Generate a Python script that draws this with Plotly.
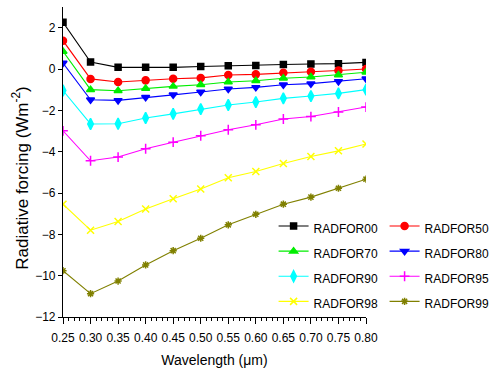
import plotly.graph_objects as go

# Wavelength grid (micrometres)
wavelength = [0.25, 0.30, 0.35, 0.40, 0.45, 0.50, 0.55, 0.60, 0.65, 0.70, 0.75, 0.80]

# Radiative forcing (W m^-2) for each scenario
radfor00 = [2.26, 0.34, 0.08, 0.08, 0.08, 0.12, 0.16, 0.17, 0.22, 0.24, 0.26, 0.32]
radfor50 = [1.37, -0.48, -0.63, -0.55, -0.47, -0.43, -0.29, -0.26, -0.18, -0.13, -0.07, 0.00]
radfor70 = [0.85, -1.00, -1.05, -0.94, -0.84, -0.76, -0.63, -0.57, -0.45, -0.39, -0.29, -0.16]
radfor80 = [0.29, -1.49, -1.52, -1.37, -1.25, -1.11, -0.97, -0.89, -0.76, -0.71, -0.60, -0.47]
radfor90 = [-1.04, -2.66, -2.65, -2.37, -2.17, -1.94, -1.74, -1.60, -1.42, -1.31, -1.18, -1.00]
radfor95 = [-2.99, -4.44, -4.26, -3.86, -3.54, -3.23, -2.94, -2.70, -2.42, -2.30, -2.08, -1.84]
radfor98 = [-6.54, -7.80, -7.38, -6.77, -6.28, -5.81, -5.26, -4.96, -4.57, -4.23, -3.96, -3.63]
radfor99 = [-9.76, -10.87, -10.26, -9.48, -8.79, -8.19, -7.54, -7.03, -6.54, -6.20, -5.77, -5.33]

series = [
    ("RADFOR00", radfor00, "#000000", "square", 6),
    ("RADFOR50", radfor50, "#ff0000", "circle", 7),
    ("RADFOR70", radfor70, "#00ee00", "triangle-up", 7),
    ("RADFOR80", radfor80, "#0000ff", "triangle-down", 7),
    ("RADFOR90", radfor90, "#00ffff", "diamond-tall", 8),
    ("RADFOR95", radfor95, "#ff00ff", "cross-thin-open", 7),
    ("RADFOR98", radfor98, "#ffff00", "x-thin-open", 7),
    ("RADFOR99", radfor99, "#808000", "asterisk-open", 6),
]

fig = go.Figure()
for name, vals, color, symbol, size in series:
    fig.add_trace(go.Scatter(
        x=wavelength, y=vals, mode="lines+markers",
        # legend rows are spaced by the legend font; the label itself is drawn smaller
        name=f"<span style='font-size:12px'>{name}</span>",
        line=dict(color=color, width=1.1),
        marker=dict(symbol=symbol, size=size, color=color,
                    line=dict(color=color, width=1.5)),
    ))

font_family = "Liberation Sans, Arial"
tick_font = dict(family=font_family, size=12, color="#000")

fig.update_layout(
    width=490, height=368,
    margin=dict(l=63, r=124, t=7, b=51, autoexpand=False),
    paper_bgcolor="white", plot_bgcolor="white",
    showlegend=True,
    legend=dict(
        orientation="h", x=0.695, y=0.35, xanchor="left", yanchor="top",
        entrywidth=66, entrywidthmode="pixels",
        font=dict(family=font_family, size=17, color="#000"),
        bgcolor="rgba(0,0,0,0)", tracegroupgap=0,
    ),
    xaxis=dict(
        range=[0.25, 0.80], tickvals=wavelength,
        ticktext=[f"{v:.2f}" for v in wavelength],
        showline=True, linecolor="#000", linewidth=1.2, mirror=False,
        ticks="outside", ticklen=6, tickwidth=1.2, tickcolor="#000",
        ticklabelstandoff=3,
        minor=dict(dtick=0.01, ticks="outside", ticklen=3, tickwidth=1, tickcolor="#000"),
        showgrid=False, zeroline=False, tickfont=tick_font,
        title=dict(text="Wavelength (μm)", standoff=14,
                   font=dict(family=font_family, size=14, color="#000")),
    ),
    yaxis=dict(
        range=[-12, 3], tickvals=[-12, -10, -8, -6, -4, -2, 0, 2],
        showline=True, linecolor="#000", linewidth=1.2, mirror=False,
        ticks="outside", ticklen=4, tickwidth=1.2, tickcolor="#000",
        showgrid=False, zeroline=False, tickfont=tick_font,
    ),
    annotations=[dict(
        text="Radiative forcing (Wm<sup>-2</sup>)", textangle=-90,
        xref="paper", yref="paper", x=-0.14, y=0.448, xanchor="center", yanchor="middle",
        showarrow=False,
        font=dict(family=font_family, size=17, color="#000"),
    )],
)

fig.write_html("out.html")
